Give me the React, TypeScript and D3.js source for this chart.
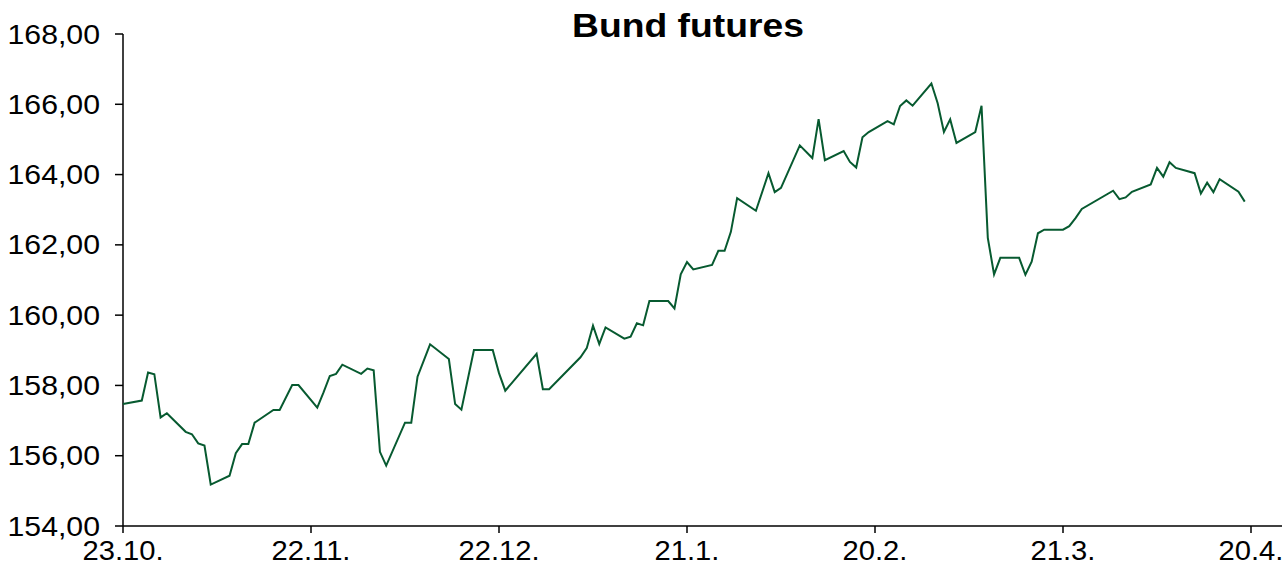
import React, { useRef, useEffect } from 'react'
import * as d3 from 'd3'

// Bund futures, daily closes (day offset from 23.10.)
const dayOffsets = [
  0, 3, 4, 5, 6, 7, 10, 11, 12, 13, 14, 17, 18, 19, 20, 21, 24, 25, 27, 28,
  31, 32, 33, 34, 35, 38, 39, 40, 41, 42, 45, 46, 47, 49, 52, 53, 54, 56, 59, 60,
  61, 66, 67, 68, 73, 74, 75, 76, 77, 80, 81, 82, 83, 84, 87, 88, 89, 90, 91, 94,
  95, 96, 97, 98, 101, 103, 104, 105, 108, 110, 111, 112, 115, 116, 117, 118, 119, 122, 123, 124,
  125, 126, 129, 130, 131, 132, 133, 136, 137, 138, 139, 140, 143, 144, 145, 146, 147, 150, 151, 152,
  153, 158, 159, 160, 161, 164, 165, 166, 167, 168, 171, 172, 173, 174, 175, 178, 179
]

const prices = [
  157.47, 157.57, 158.37, 158.32, 157.09, 157.21, 156.68, 156.61, 156.35, 156.29,
  155.18, 155.43, 156.07, 156.33, 156.33, 156.94, 157.30, 157.30, 158.01, 158.01,
  157.37, 157.80, 158.27, 158.33, 158.59, 158.33, 158.48, 158.43, 156.11, 155.72,
  156.94, 156.94, 158.25, 159.17, 158.75, 157.47, 157.31, 159.01, 159.01, 158.35,
  157.85, 158.90, 157.89, 157.89, 158.80, 159.06, 159.70, 159.18, 159.65, 159.33,
  159.39, 159.77, 159.71, 160.40, 160.40, 160.19, 161.16, 161.51, 161.30, 161.43,
  161.83, 161.83, 162.37, 163.33, 162.97, 164.04, 163.50, 163.62, 164.83, 164.47,
  165.58, 164.41, 164.67, 164.36, 164.20, 165.06, 165.21, 165.52, 165.43, 165.95,
  166.11, 165.96, 166.59, 166.03, 165.21, 165.57, 164.90, 165.21, 165.96, 162.20,
  161.16, 161.63, 161.63, 161.15, 161.52, 162.33, 162.43, 162.43, 162.53, 162.76,
  163.02, 163.54, 163.30, 163.35, 163.51, 163.72, 164.19, 163.94, 164.35, 164.19,
  164.04, 163.46, 163.77, 163.50, 163.87, 163.51, 163.23
]

const xTickDays = [0, 30, 60, 90, 120, 150, 180]
const xTickLabels = ['23.10.', '22.11.', '22.12.', '21.1.', '20.2.', '21.3.', '20.4.']
const yTicks = [154, 156, 158, 160, 162, 164, 166, 168]

const WIDTH = 1285
const HEIGHT = 565
const FONT = 'Arial, "Liberation Sans", sans-serif'

const App: React.FC = () => {
  const svgRef = useRef<SVGSVGElement>(null)

  useEffect(() => {
    if (!svgRef.current) return
    const svg = d3.select(svgRef.current)
    svg.selectAll('*').remove()

    const x = d3.scaleLinear().domain([0, 180]).range([123, 1251])
    const y = d3.scaleLinear().domain([154, 168]).range([526, 34])

    // y axis
    svg.append('line')
      .attr('x1', x(0)).attr('x2', x(0))
      .attr('y1', y(168)).attr('y2', y(154))
      .attr('stroke', '#000').attr('stroke-width', 1.5)

    yTicks.forEach(t => {
      svg.append('line')
        .attr('x1', x(0) - 8).attr('x2', x(0))
        .attr('y1', y(t)).attr('y2', y(t))
        .attr('stroke', '#000').attr('stroke-width', 1.5)
      svg.append('text')
        .attr('transform', `translate(100,${y(t)}) scale(1.08,1)`)
        .attr('text-anchor', 'end')
        .attr('dominant-baseline', 'central')
        .attr('font-family', FONT)
        .attr('font-size', 28)
        .attr('fill', '#000')
        .text(d3.format('.2f')(t).replace('.', ','))
    })

    // x axis
    svg.append('line')
      .attr('x1', x(0)).attr('x2', 1282)
      .attr('y1', y(154)).attr('y2', y(154))
      .attr('stroke', '#000').attr('stroke-width', 1.5)

    xTickDays.forEach((d, i) => {
      svg.append('line')
        .attr('x1', x(d)).attr('x2', x(d))
        .attr('y1', y(154)).attr('y2', y(154) + 7)
        .attr('stroke', '#000').attr('stroke-width', 1.5)
      svg.append('text')
        .attr('transform', `translate(${x(d)},560) scale(1.08,1)`)
        .attr('text-anchor', 'middle')
        .attr('font-family', FONT)
        .attr('font-size', 27)
        .attr('fill', '#000')
        .text(xTickLabels[i])
    })

    // price line
    const line = d3.line<number>()
      .x((_, i) => x(dayOffsets[i]))
      .y(v => y(v))

    svg.append('path')
      .attr('d', line(prices))
      .attr('fill', 'none')
      .attr('stroke', '#075a30')
      .attr('stroke-width', 2)
      .attr('stroke-linejoin', 'miter')

    // title
    svg.append('text')
      .attr('transform', `translate(688,37) scale(1.13,1)`)
      .attr('text-anchor', 'middle')
      .attr('font-family', FONT)
      .attr('font-weight', 'bold')
      .attr('font-size', 33)
      .attr('fill', '#000')
      .text('Bund futures')
  }, [])

  return (
    <svg
      ref={svgRef}
      width={WIDTH}
      height={HEIGHT}
      style={{ position: 'absolute', left: 0, top: 0, background: '#fff' }}
    />
  )
}

export default App
